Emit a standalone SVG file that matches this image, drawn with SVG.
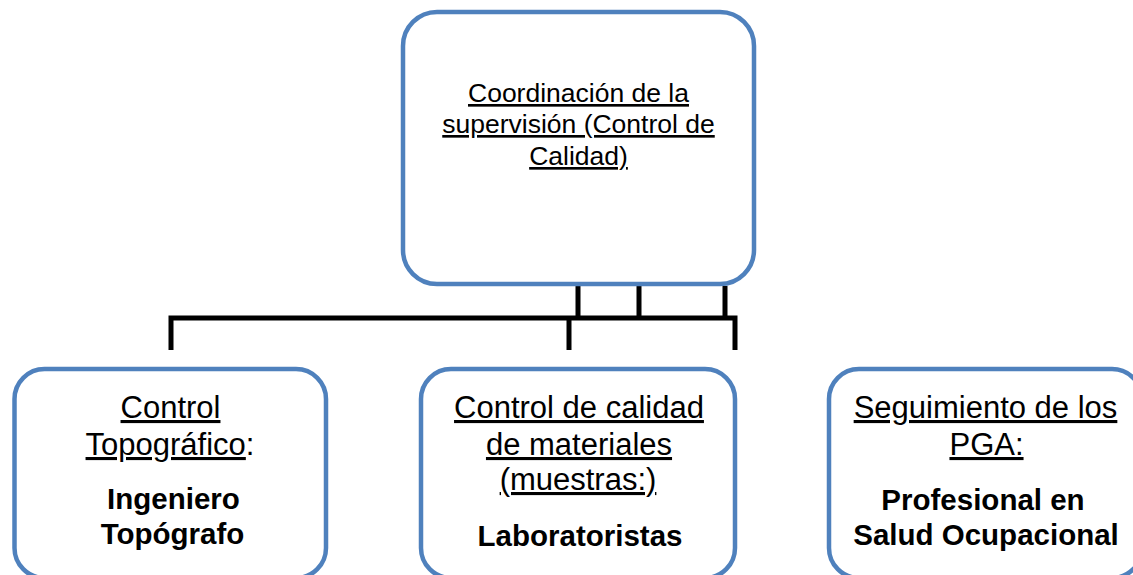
<svg xmlns="http://www.w3.org/2000/svg" width="1133" height="575" viewBox="0 0 1133 575">
<style>
.box{fill:#ffffff;stroke:#4f81bd;stroke-width:4.5}
.t{font-family:"Liberation Sans",Arial,sans-serif;fill:#000;text-anchor:middle}
.r26{font-size:26.5px}
.r31{font-size:31px}
.b{font-size:29.5px;font-weight:bold}
.u{text-decoration:underline}
.conn{fill:none;stroke:#000;stroke-width:5;stroke-linecap:butt;stroke-linejoin:miter}
</style>
<rect width="1133" height="575" fill="#ffffff"/>
<g id="connectors">
<path class="conn" d="M578,286 V318 M639,286 V318 M725,286 V318"/>
<path class="conn" d="M171,350 V318 H735 V350"/>
<path class="conn" d="M569,318 V350"/>
</g>
<g id="node-coordinacion">
<rect class="box" x="403" y="12" width="351" height="272" rx="34" ry="34"/>
<text class="t r26 u" x="578.5" y="102">Coordinación de la</text>
<text class="t r26 u" x="578.5" y="133">supervisión (Control de</text>
<text class="t r26 u" x="578.5" y="165">Calidad)</text>
</g>
<g id="node-topografico">
<rect class="box" x="14.5" y="369" width="311.5" height="209" rx="30" ry="30"/>
<text class="t r31 u" x="170.5" y="418">Control</text>
<text class="t r31" x="170" y="455"><tspan class="u">Topográfico</tspan>:</text>
<text class="t b" x="173.5" y="509">Ingeniero</text>
<text class="t b" x="172.5" y="544">Topógrafo</text>
</g>
<g id="node-materiales">
<rect class="box" x="421" y="369" width="314" height="209" rx="30" ry="30"/>
<text class="t r31 u" x="579" y="418">Control de calidad</text>
<text class="t r31 u" x="579" y="455">de materiales</text>
<text class="t r31 u" x="578" y="490">(muestras:)</text>
<text class="t b" x="580" y="546">Laboratoristas</text>
</g>
<g id="node-pga">
<rect class="box" x="829" y="369" width="313" height="209" rx="30" ry="30"/>
<text class="t r31 u" x="985.5" y="418">Seguimiento de los</text>
<text class="t r31 u" x="986.5" y="455">PGA:</text>
<text class="t b" x="983" y="510">Profesional en</text>
<text class="t b" x="986" y="545">Salud Ocupacional</text>
</g>
</svg>
